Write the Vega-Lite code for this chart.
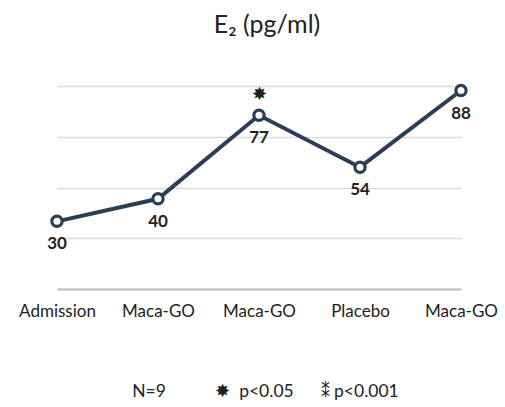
{
  "$schema": "https://vega.github.io/schema/vega-lite/v6.json",
  "autosize": "none",
  "width": 404,
  "height": 203,
  "padding": {"left": 57, "top": 86, "right": 44, "bottom": 118},
  "background": "white",
  "config": {"view": {"stroke": null}, "font": "Lato"},
  "title": {"text": "E₂ (pg/ml)", "fontSize": 25, "fontWeight": "normal", "color": "#222", "offset": 24, "dx": 8, "font": "Lato"},
  "data": {"values": [
    {"idx": 0, "stage": "Admission", "e2": 30, "sig": ""},
    {"idx": 1, "stage": "Maca-GO", "e2": 40, "sig": ""},
    {"idx": 2, "stage": "Maca-GO", "e2": 77, "sig": "✸"},
    {"idx": 3, "stage": "Placebo", "e2": 54, "sig": ""},
    {"idx": 4, "stage": "Maca-GO", "e2": 88, "sig": ""}
  ]},
  "encoding": {
    "x": {"field": "idx", "type": "ordinal", "scale": {"type": "point", "padding": 0},
      "axis": {"labelExpr": "['Admission','Maca-GO','Maca-GO','Placebo','Maca-GO'][datum.value]", "labelAngle": 0, "labelFontSize": 17, "labelColor": "#222", "labelPadding": 14, "ticks": false, "grid": false, "domainColor": "#bdbdbd", "domainWidth": 2,
        "title": "N=9\u00a0\u00a0\u00a0\u00a0\u00a0\u00a0\u00a0\u00a0\u00a0\u00a0\u00a0✸\u00a0\u00a0p<0.05\u00a0\u00a0\u00a0\u00a0\u00a0\u00a0⁑\u00a0p<0.001", "titleFontSize": 17.5, "titleFontWeight": "normal", "titleColor": "#222", "titlePadding": 63, "titleX": 208}},
    "y": {"field": "e2", "type": "quantitative", "scale": {"domain": [0, 90]},
      "axis": {"values": [0, 22.5, 45, 67.5, 90], "labels": false, "ticks": false, "domain": false, "title": null, "gridColor": "#dadada", "gridWidth": 1.5}}
  },
  "layer": [
    {"mark": {"type": "line", "color": "#2c3e55", "strokeWidth": 4}},
    {"mark": {"type": "point", "filled": true, "fill": "white", "stroke": "#2c3e55", "strokeWidth": 3.2, "size": 105, "opacity": 1}},
    {"mark": {"type": "text", "dy": 23, "fontSize": 17, "fontWeight": "bold", "color": "#222"}, "encoding": {"text": {"field": "e2"}}},
    {"mark": {"type": "text", "dy": -20, "fontSize": 18, "color": "#222"}, "encoding": {"text": {"field": "sig"}}}
  ]
}
